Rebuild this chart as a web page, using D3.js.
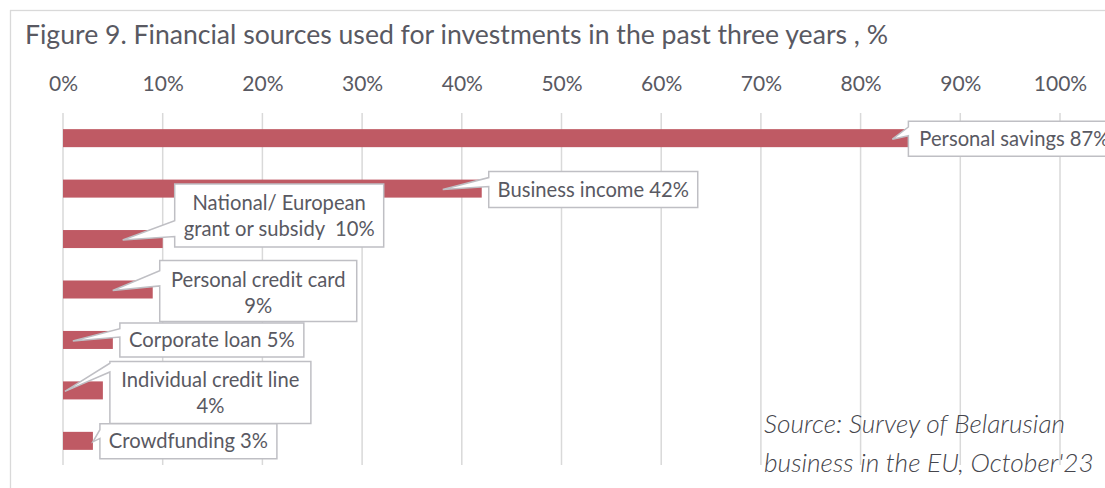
<!DOCTYPE html>
<html>
<head>
<meta charset="utf-8">
<script src="https://cdn.jsdelivr.net/npm/d3@7"></script>
<style>
  html, body { margin: 0; padding: 0; background: #fff; }
  svg { display: block; }
  text { font-family: Lato, "Noto Sans", sans-serif; white-space: pre; }
</style>
</head>
<body>
<svg id="chart" width="1105" height="488"></svg>
<script>
// Survey shares, % of respondents
const categories = [
  "Personal savings",
  "Business income",
  "National/ European grant or subsidy",
  "Personal credit card",
  "Corporate loan",
  "Individual credit line",
  "Crowdfunding"
];
const values = [87, 42, 10, 9, 5, 4, 3];
const tickValues = [0, 10, 20, 30, 40, 50, 60, 70, 80, 90, 100];

// Callout wording: "{v}" is replaced by the value
const labelLines = [
  ["Personal savings {v}"],
  ["Business income {v}"],
  ["National/ European", "grant or subsidy  {v}"],
  ["Personal credit card", "{v}"],
  ["Corporate loan {v}"],
  ["Individual credit line", "{v}"],
  ["Crowdfunding {v}"]
];

const titleText = "Figure 9. Financial sources used for investments in the past three years , %";
const sourceLines = ["Source: Survey of Belarusian", "business in the EU, October'23"];

// Callout geometry: tip offset from bar end, box offset from tip, box size, notch span (fraction of box height)
const calloutLayout = [
  { tip: -38, bx: 16, by: -18, w: 212, h: 35, notch: [2/12, 5/12] },
  { tip: -39, bx: 46, by: -18, w: 209, h: 36, notch: [2/12, 5/12] },
  { tip: -40, bx: 52, by: -56, w: 209, h: 63, notch: [7/12, 10/12] },
  { tip: -40, bx: 47, by: -30, w: 197, h: 61, notch: [2/12, 5/12] },
  { tip: -40, bx: 47, by: -18, w: 184, h: 34, notch: [2/12, 5/12] },
  { tip: -38, bx: 45, by: -30, w: 201, h: 62, notch: [0.03, 0.17] },
  { tip: 0,   bx: 7,  by: -18, w: 177, h: 35, notch: [2/12, 5/12] }
];

const svg = d3.select("#chart");
const W = 1105, H = 488;
const textColor = "#595962";
const gridColor = "#d9d9d9";
const barColor = "#bf5a64";

svg.append("rect").attr("width", W).attr("height", H).attr("fill", "#fff");

// outer chart frame (runs off the right and bottom edges)
svg.append("rect")
  .attr("x", 10.5).attr("y", 10.5)
  .attr("width", 1200).attr("height", 600)
  .attr("fill", "none").attr("stroke", gridColor).attr("stroke-width", 1.3);

svg.append("text")
  .attr("x", 25).attr("y", 44)
  .attr("font-size", 26.6)
  .attr("fill", textColor)
  .text(titleText);

const x = d3.scaleLinear().domain([0, 100]).range([63, 1060]);
const y = d3.scaleBand().domain(categories).range([113, 466]).paddingInner(0.643).paddingOuter(0.32);

// top axis labels
const axis = d3.axisTop(x)
  .tickValues(tickValues)
  .tickFormat(d => d + "%")
  .tickSize(0)
  .tickPadding(0);
const gAxis = svg.append("g").attr("transform", "translate(0,91)").call(axis);
gAxis.select(".domain").remove();
gAxis.selectAll("text")
  .attr("font-family", "Lato, 'Noto Sans', sans-serif")
  .attr("font-size", 21)
  .attr("fill", textColor)
  .attr("dy", 0);

// vertical gridlines
svg.append("g").selectAll("line")
  .data(tickValues)
  .join("line")
  .attr("x1", d => x(d)).attr("x2", d => x(d))
  .attr("y1", 113).attr("y2", 465)
  .attr("stroke", gridColor).attr("stroke-width", 1.5);

// bars
svg.append("g").selectAll("rect")
  .data(values)
  .join("rect")
  .attr("x", x(0))
  .attr("y", (d, i) => y(categories[i]))
  .attr("width", d => x(d) - x(0))
  .attr("height", y.bandwidth())
  .attr("fill", barColor);

// callouts
const gCall = svg.append("g");
values.forEach((v, i) => {
  const L = calloutLayout[i];
  const tipX = x(v) + L.tip;
  const tipY = y(categories[i]) + y.bandwidth() / 2 + 1;
  const bx = tipX + L.bx, by = tipY + L.by;
  const n1 = by + L.h * L.notch[0], n2 = by + L.h * L.notch[1];
  const p = d3.path();
  p.moveTo(bx, by);
  p.lineTo(bx + L.w, by);
  p.lineTo(bx + L.w, by + L.h);
  p.lineTo(bx, by + L.h);
  p.lineTo(bx, n2);
  p.lineTo(tipX, tipY);
  p.lineTo(bx, n1);
  p.closePath();
  gCall.append("path")
    .attr("d", p.toString())
    .attr("fill", "#fff")
    .attr("stroke", "#bfbfc4")
    .attr("stroke-width", 1.5)
    .attr("stroke-linejoin", "miter");

  const lines = labelLines[i].map(s => s.replace("{v}", v + "%"));
  const t = gCall.append("text")
    .attr("text-anchor", "middle")
    .attr("font-size", 20.2)
    .attr("fill", textColor);
  if (lines.length === 1) {
    t.append("tspan").attr("x", bx + L.w / 2).attr("y", by + L.h / 2 + 7).text(lines[0]);
  } else {
    t.append("tspan").attr("x", bx + L.w / 2).attr("y", by + 26).text(lines[0]);
    t.append("tspan").attr("x", bx + L.w / 2).attr("y", by + 52).text(lines[1]);
  }
});

// source note
const src = svg.append("text")
  .attr("font-size", 26.3)
  .attr("font-style", "italic")
  .attr("font-weight", 300)
  .attr("fill", "#45454c");
sourceLines.forEach((s, i) => {
  src.append("tspan").attr("x", 764).attr("y", 433 + i * 39).text(s);
});
</script>
</body>
</html>
